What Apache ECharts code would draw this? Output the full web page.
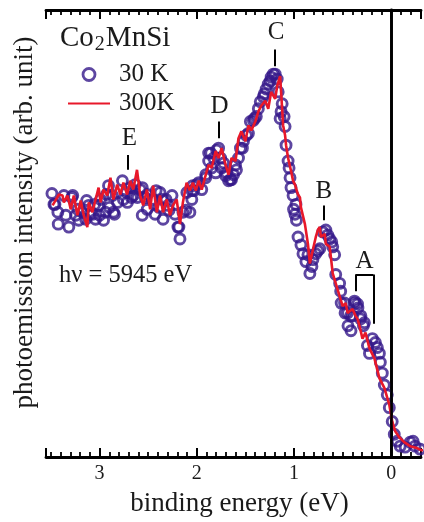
<!DOCTYPE html>
<html>
<head>
<meta charset="utf-8">
<script src="https://cdn.jsdelivr.net/npm/echarts@6/dist/echarts.min.js"></script>
<style>html,body{margin:0;padding:0;background:#fff;}#chart{width:424px;height:522px;}</style>
</head>
<body>
<div id="chart"></div>
<script>
// ---- data (binding energy in eV, intensity in arb. units) ----
const energy30K = [3.490,3.469,3.429,3.425,3.367,3.347,3.316,3.276,3.245,3.214,3.173,3.143,3.112,3.071,3.041,3.010,2.990,2.959,2.939,2.908,2.867,2.857,2.816,2.765,2.755,2.714,2.684,2.653,2.633,2.582,2.561,2.531,2.510,2.459,2.429,2.378,2.357,2.347,2.296,2.255,2.224,2.194,2.173,2.143,2.102,2.071,2.051,2.041,
2.031,2.000,1.949,1.908,1.878,1.857,1.847,1.806,1.776,1.755,1.745,1.704,1.673,1.653,1.622,1.602,1.571,1.551,1.520,1.490,1.449,1.418,1.388,1.347,1.316,1.286,1.265,1.235,1.214,1.194,1.163,1.133,1.143,1.092,1.082,1.061,1.041,1.031,1.010,0.980,
1.005,0.990,0.975,0.959,0.929,0.908,0.878,0.837,0.806,0.776,0.735,0.704,0.673,0.633,0.602,0.582,0.571,0.531,0.520,0.480,0.449,0.418,0.378,0.347,0.316,
0.515,0.475,0.445,0.414,0.374,0.343,0.312,0.276,0.224,0.194,0.163,0.122,0.112,0.092,0.071,0.041,0.020,-0.010,-0.031,-0.061,-0.092,-0.143,-0.194,-0.224,-0.245,-0.296,
3.459,3.286,3.224,3.133,3.102,3.051,3.000,2.929,2.898,2.847,2.724,2.673,2.612,2.561,2.510,2.418,2.388,2.316,2.286,2.184,2.112,2.051,1.980,1.908,1.878,1.827,1.796,1.724,1.694,1.643,1.592,1.531,1.469,1.408,1.367,1.306,1.245,1.173,1.122,1.102,1.051,0.857,0.816,0.755,0.653,0.612,0.398,0.286,0.245,0.143];
const intensity30K = [267,256,248,236,265,245,233,265,245,240,248,241,255,246,241,255,261,240,248,275,265,248,258,280,261,258,273,265,276,271,273,263,251,261,246,268,261,241,255,265,246,233,221,248,268,248,261,275,
270,276,271,286,300,308,293,288,313,303,293,285,280,281,286,296,303,313,320,326,340,341,345,360,365,373,378,385,388,388,370,350,343,335,316,300,283,273,265,256,
251,246,240,223,215,206,198,186,200,206,211,228,230,221,213,205,185,176,168,156,146,143,158,155,140,
156,146,133,128,156,151,143,136,105,120,116,105,96,85,73,63,50,36,23,16,11,10,15,16,11,8,
256,263,251,260,246,256,245,266,253,246,268,263,263,245,266,270,253,261,250,233,250,270,278,283,308,303,311,298,288,281,291,313,328,343,353,368,381,383,358,345,293,205,193,209,225,218,143,133,113,111];

const energy300K = [3.483,3.418,3.381,3.367,3.330,3.296,3.265,3.228,3.194,3.163,3.126,3.112,3.074,3.041,3.010,2.990,2.959,2.921,2.888,2.857,2.819,2.786,2.755,2.717,2.684,2.653,2.615,2.582,2.551,2.513,2.480,2.449,2.411,2.378,2.347,2.309,2.276,2.245,2.207,2.173,2.143,2.105,2.071,2.041,2.010,1.980,1.949,1.908,1.878,1.847,1.806,1.776,1.745,1.704,1.673,1.643,1.602,1.571,1.541,1.500,1.469,1.439,1.398,1.367,1.337,1.296,1.265,1.235,1.194,1.173,1.143,1.133,1.112,1.092,1.082,1.061,1.031,1.010,0.990,0.959,0.939,0.929,0.888,0.857,0.837,0.806,0.776,0.755,0.735,0.724,0.684,0.673,0.633,0.602,0.571,0.531,0.500,0.469,0.449,0.429,0.398,0.367,0.347,0.327,0.296,0.265,0.224,0.173,0.122,0.071,0.020,-0.010,-0.041,-0.082,-0.133,-0.194,-0.265,-0.306,-0.410];
const intensity300K = [255,266,265,258,265,251,265,245,260,245,233,258,248,261,273,258,271,265,283,261,276,266,278,266,280,271,291,265,255,271,251,275,248,265,248,261,245,255,261,236,258,278,270,278,270,280,271,286,296,293,310,303,313,296,286,303,300,323,330,320,336,331,340,350,356,361,353,370,363,376,386,370,336,326,316,303,290,280,276,266,263,253,236,216,196,210,223,230,233,223,226,216,213,186,176,163,153,156,146,148,150,143,140,133,120,126,110,100,80,70,53,36,26,20,15,11,9,7,6];

const seriesNames = ['30 K', '300K'];
const majorTickLabels = [0, 1, 2, 3];
const peakNames = ['A', 'B', 'C', 'D', 'E'];
const peakEnergies = [0.276, 0.694, 1.184, 1.765, 2.694];

// ---- annotation placement (data coordinates) ----
const peakLabelY = [198, 269, 430, 355, 323];
const peakTickX = [null, 0.694, 1.194, 1.776, 2.714];
const peakTickY = [null, [255, 240], [413, 396], [340, 323], [306, 291]];
const bracketA = [[0.367, 168], [0.367, 185], [0.184, 185], [0.184, 135]];

const FONT = 'Liberation Serif';
const TXT = '#1a1a1a';
const PURPLE = '#35188a';
const RED = '#e8182a';

const pts30 = energy30K.map((e, i) => [e, intensity30K[i]]);
const pts300 = energy300K.map((e, i) => [e, intensity300K[i]]);

const markLines = [{ xAxis: 0, lineStyle: { width: 2.5 } }];
for (let i = 0; i < peakNames.length; i++) {
  if (peakTickX[i] == null) continue;
  markLines.push([{ coord: [peakTickX[i], peakTickY[i][0]] }, { coord: [peakTickX[i], peakTickY[i][1]] }]);
}
for (let i = 0; i < bracketA.length - 1; i++) {
  markLines.push([{ coord: bracketA[i] }, { coord: bracketA[i + 1] }]);
}
const markPoints = peakNames.map((n, i) => ({ name: n, coord: [peakEnergies[i], peakLabelY[i]] }));

const X_MIN = -0.306, X_MAX = 3.551;
function xAx(opts) {
  return Object.assign({
    type: 'value', inverse: true, min: X_MIN, max: X_MAX,
    splitLine: { show: false },
    axisLine: { show: false },
    axisLabel: { show: false },
    axisTick: { show: true, inside: true, length: 5, lineStyle: { color: '#000', width: 1.8 } }
  }, opts);
}

const chart = echarts.init(document.getElementById('chart'), null, { renderer: 'canvas' });
chart.setOption({
  animation: false,
  backgroundColor: '#fff',
  title: [
    {
      text: 'Co{s|2}MnSi', left: 55, top: 16,
      textStyle: {
        fontFamily: FONT, fontSize: 29, fontWeight: 'normal', color: TXT,
        rich: { s: { fontFamily: FONT, fontSize: 20, color: TXT, padding: [14, 1, 0, 1] } }
      }
    },
    {
      text: 'hν = 5945 eV', left: 54, top: 258,
      textStyle: { fontFamily: FONT, fontSize: 24.5, fontWeight: 'normal', color: TXT }
    }
  ],
  legend: {
    orient: 'vertical', left: 62, top: 57, itemWidth: 42, itemHeight: 12, itemGap: 4,
    textStyle: { fontFamily: FONT, fontSize: 25, color: TXT, padding: [0, 0, 0, 4] },
    data: [
      { name: seriesNames[0], icon: 'circle', itemStyle: { color: '#fff', borderColor: PURPLE, borderWidth: 2.8 } },
      { name: seriesNames[1], itemStyle: { color: 'rgba(0,0,0,0)', borderColor: 'rgba(0,0,0,0)', borderWidth: 0 } }
    ]
  },
  grid: { left: 46, right: 0, top: 10, bottom: 59, containLabel: false },
  xAxis: [
    xAx({
      position: 'bottom', splitNumber: 4,
      axisLine: { show: true, lineStyle: { color: '#000', width: 2.8 } },
      axisTick: { show: true, inside: true, length: 9, lineStyle: { color: '#000', width: 2 } },
      axisLabel: {
        show: true, fontFamily: FONT, fontSize: 20, color: TXT, margin: 7,
        formatter: v => (majorTickLabels.indexOf(Math.round(v * 1000) / 1000) >= 0 ? String(v) : '')
      },
      name: 'binding energy (eV)', nameLocation: 'middle', nameGap: 33,
      nameTextStyle: { fontFamily: FONT, fontSize: 27, color: TXT, padding: [0, 0, 0, 12] }
    }),
    xAx({ position: 'bottom', splitNumber: 40 }),
    xAx({
      position: 'top', splitNumber: 4,
      axisLine: { show: true, lineStyle: { color: '#000', width: 2.8 } },
      axisTick: { show: true, inside: true, length: 9, lineStyle: { color: '#000', width: 2 } }
    }),
    xAx({ position: 'top', splitNumber: 40 })
  ],
  yAxis: {
    type: 'value', min: 0, max: 453,
    axisLine: { show: true, lineStyle: { color: '#000', width: 2.8 } },
    axisTick: { show: false }, axisLabel: { show: false }, splitLine: { show: false },
    name: 'photoemission intensity (arb. unit)', nameLocation: 'middle', nameRotate: 90, nameGap: 8,
    nameTextStyle: { fontFamily: FONT, fontSize: 27, color: TXT, padding: [0, 0, 0, 22] }
  },
  series: [
    {
      name: seriesNames[0], type: 'scatter', xAxisIndex: 0, data: pts30,
      symbol: 'circle', symbolSize: 10,
      itemStyle: { color: 'rgba(255,255,255,0)', borderColor: PURPLE, borderWidth: 2.9 },
      z: 2
    },
    {
      name: seriesNames[1], type: 'line', xAxisIndex: 0, data: pts300,
      showSymbol: false, symbol: 'none',
      lineStyle: { color: RED, width: 2.6 }, itemStyle: { color: RED },
      z: 3,
      markLine: {
        silent: true, symbol: ['none', 'none'], label: { show: false },
        lineStyle: { color: '#000', width: 2, type: 'solid' },
        data: markLines
      },
      markPoint: {
        silent: true, symbol: 'circle', symbolSize: 0,
        label: { show: true, formatter: '{b}', position: 'inside', fontFamily: FONT, fontSize: 25, color: TXT },
        itemStyle: { color: 'rgba(0,0,0,0)' },
        data: markPoints
      }
    }
  ]
});
</script>
</body>
</html>
